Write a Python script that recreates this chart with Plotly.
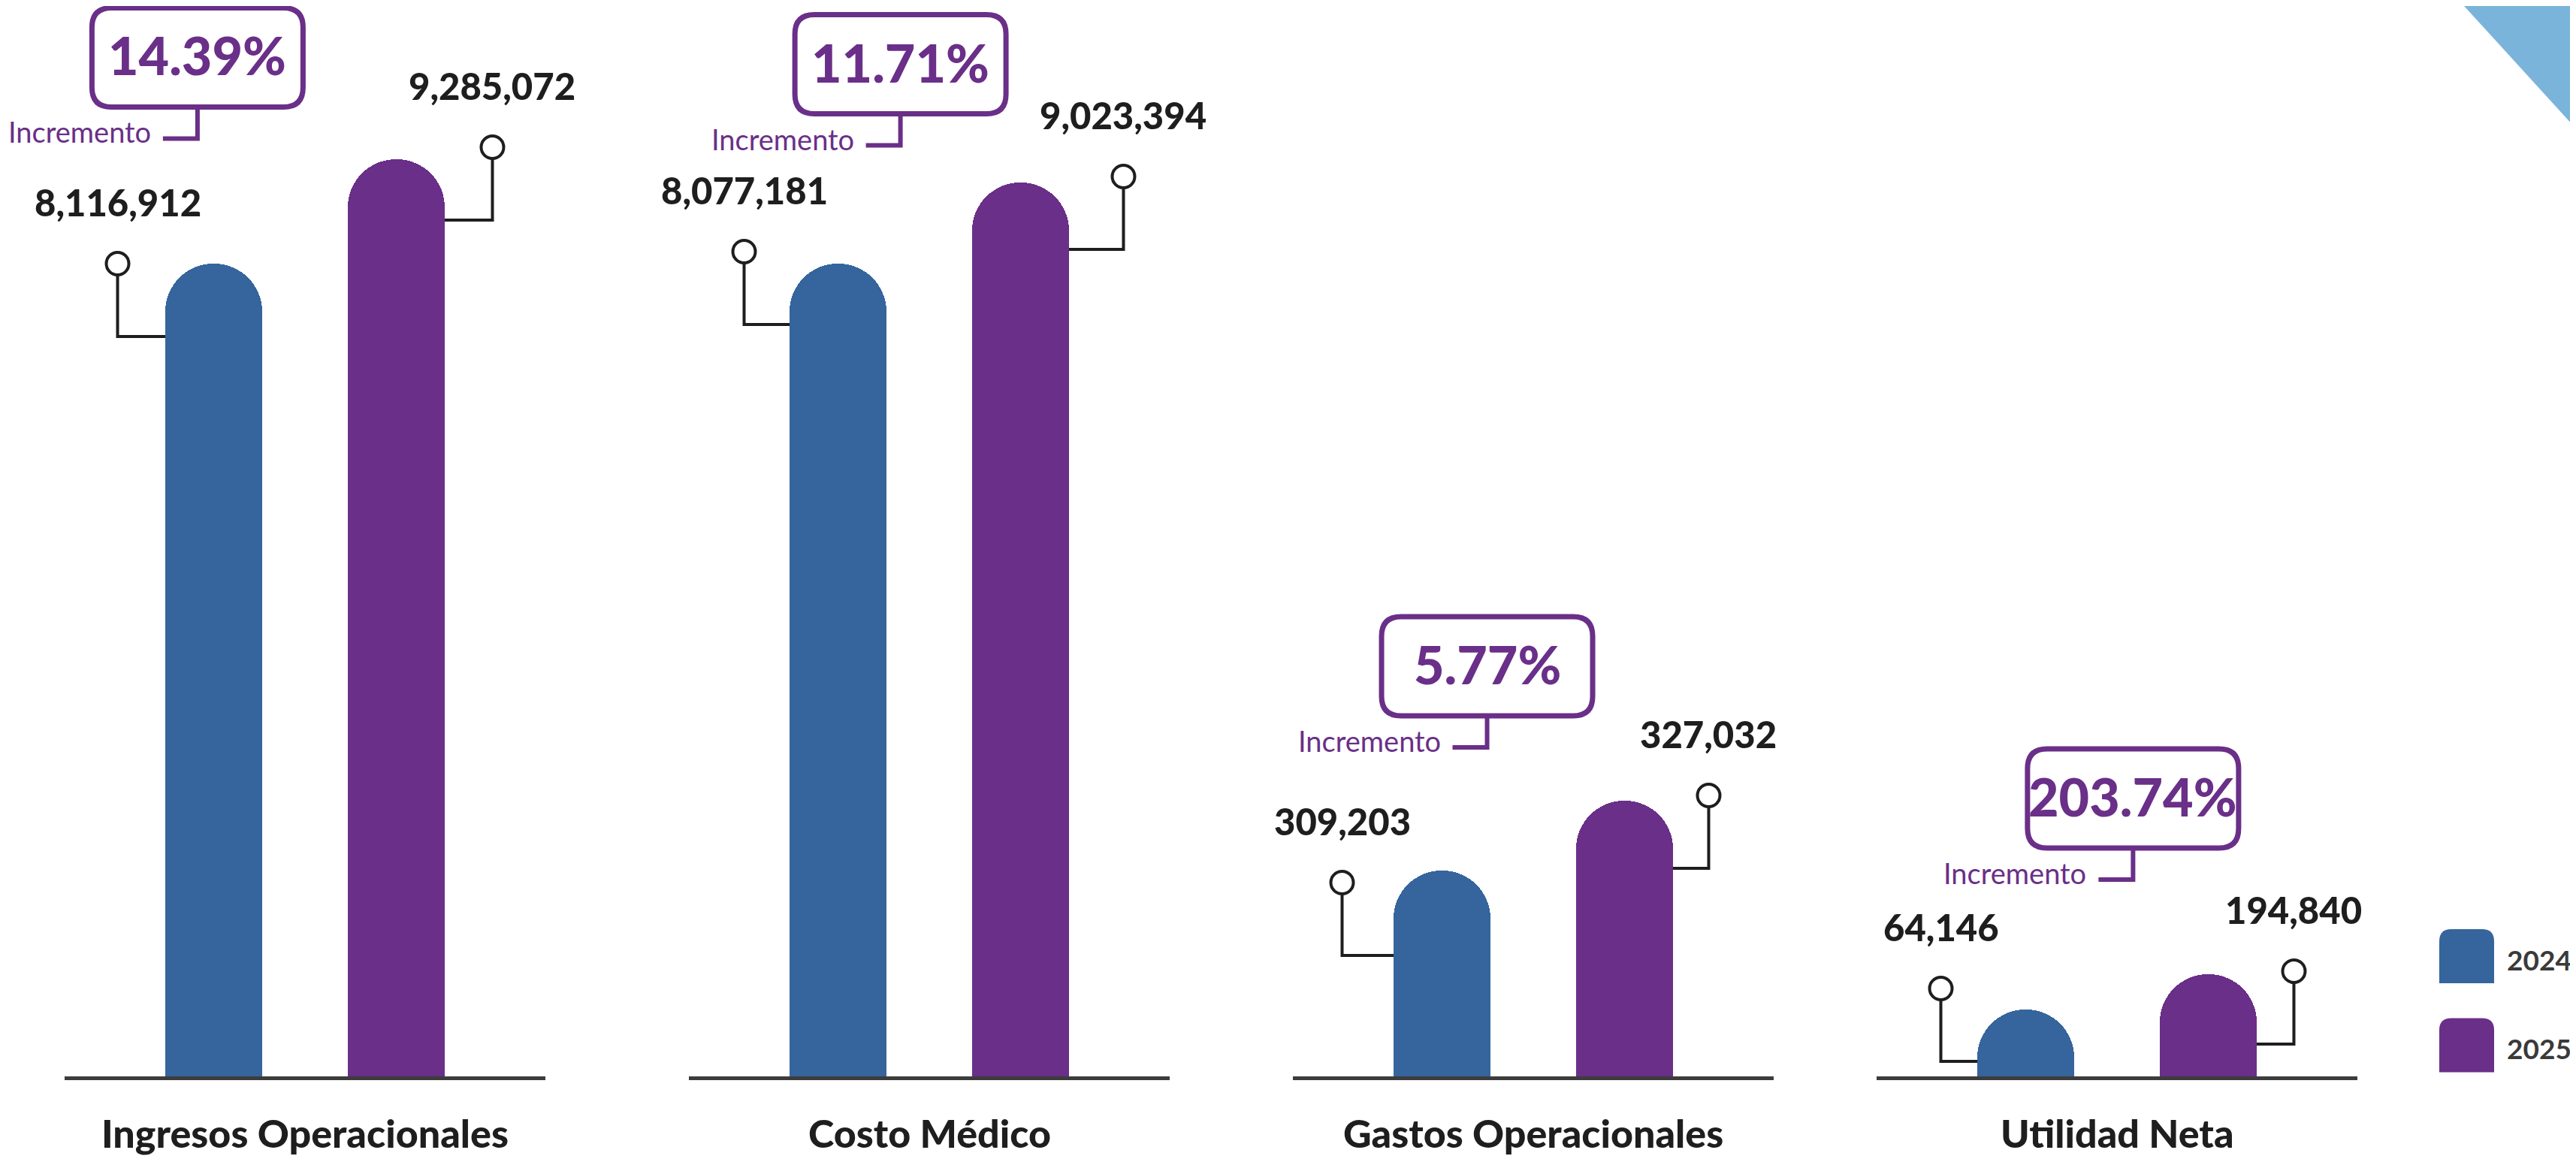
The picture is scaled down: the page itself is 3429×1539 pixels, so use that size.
import math
import plotly.graph_objects as go

# ---------------- data ----------------
categories = ["Ingresos Operacionales", "Costo Médico", "Gastos Operacionales", "Utilidad Neta"]
years = ["2024", "2025"]
values_2024 = [8116912, 8077181, 309203, 64146]
values_2025 = [9285072, 9023394, 327032, 194840]
increments = ["14.39%", "11.71%", "5.77%", "203.74%"]

# ---------------- style / layout ----------------
W, H = 3429, 1539
BLUE = "#35659c"
PURPLE = "#6a2f88"
INK = "#1e1e1e"
LINE = "#3c3c3c"
FONT = "Lato"

BASE_PX = 1425                     # baseline, px from top
panel_px = [(78, 718), (909, 1549), (1713, 2353), (2490, 3130)]
# (axis type, range) per panel – the infographic does not draw bars to one scale
y_axes = [("linear", (-976216, 10999484)), ("linear", (-1402221, 11082204)),
          ("linear", (256677, 529850)), ("log", (3.893, 18.53))]
XR = [-0.817, 1.817]
BAR_W = 0.531
HALF_BAR_PX = 64.5
CIRCLE_R = 15
# (circle dx from bar centre, circle dy above bar top) in px
leader = [[(-128, 0), (128, 16)], [(-125, 16), (137, 8)],
          [(-133, -16), (112, 7)], [(-113, 28), (114, 4)]]
# increment box: (x in panel data units, centre px from top)
box_pos = [(-0.089, 68.5), (0.342, 77.5), (0.247, 879), (0.588, 1055)]
BOX_W2, BOX_H2, BOX_R = 140.5, 66, 26


def circle_path(cx, cy, r):
    k = 0.5523 * r
    return (f"M {cx+r},{cy} C {cx+r},{cy+k} {cx+k},{cy+r} {cx},{cy+r} "
            f"C {cx-k},{cy+r} {cx-r},{cy+k} {cx-r},{cy} "
            f"C {cx-r},{cy-k} {cx-k},{cy-r} {cx},{cy-r} "
            f"C {cx+k},{cy-r} {cx+r},{cy-k} {cx+r},{cy} Z")


fig = go.Figure()
shapes, annotations = [], []
y_dom = [1 - BASE_PX / H, 1.0]

for i, cat in enumerate(categories):
    n = i + 1
    xa = "x" if n == 1 else f"x{n}"
    ya = "y" if n == 1 else f"y{n}"
    ytype, (lo, hi) = y_axes[i]
    vals = [values_2024[i], values_2025[i]]
    colors = [BLUE, PURPLE]

    def ann_y(v):
        # annotations on a log axis take log10 positions
        return math.log10(v) if ytype == "log" else v

    # rectangular foot below zero so the bars sit on the baseline
    if ytype == "linear" and lo < 0:
        fig.add_trace(go.Bar(
            x=[0, 1], y=[-lo, -lo], base=[lo, lo], width=BAR_W,
            marker=dict(color=colors, line=dict(width=0)),
            xaxis=xa, yaxis=ya, showlegend=False, hoverinfo="skip"))
    fig.add_trace(go.Bar(
        x=[0, 1], y=vals, width=BAR_W,
        marker=dict(color=colors, cornerradius="50%", line=dict(width=0)),
        xaxis=xa, yaxis=ya, showlegend=False, hoverinfo="skip"))

    x0p, x1p = panel_px[i]
    fig.update_layout(**{
        ("xaxis" if n == 1 else f"xaxis{n}"): dict(
            domain=[x0p / W, x1p / W], range=XR, anchor=ya, showline=True,
            linecolor=LINE, linewidth=5, showticklabels=False, showgrid=False,
            zeroline=False, ticks="", fixedrange=True),
        ("yaxis" if n == 1 else f"yaxis{n}"): dict(
            type=ytype, domain=y_dom, range=[lo, hi], anchor=xa, visible=False,
            showgrid=False, zeroline=False, fixedrange=True),
    })

    # leaders, circles and value labels
    for j, v in enumerate(vals):
        dx, dy = leader[i][j]
        side = -HALF_BAR_PX if j == 0 else HALF_BAR_PX
        shapes.append(dict(type="path", xref=xa, yref=ya, xsizemode="pixel", ysizemode="pixel",
                           xanchor=j, yanchor=v,
                           path=f"M {side},{dy-97} H {dx} V {dy-CIRCLE_R}",
                           line=dict(color=INK, width=4)))
        shapes.append(dict(type="path", xref=xa, yref=ya, xsizemode="pixel", ysizemode="pixel",
                           xanchor=j, yanchor=v, path=circle_path(dx, dy, CIRCLE_R),
                           line=dict(color=INK, width=4), fillcolor="white"))
        annotations.append(dict(xref=xa, yref=ya, x=j, y=ann_y(v), xshift=dx, yshift=dy + 82,
                                text=f"{v:,}", showarrow=False, xanchor="center", yanchor="middle",
                                font=dict(family=FONT, size=49, color=INK, weight=900)))

    # increment box
    bx, by = box_pos[i]
    byp = 1 - by / H
    w2, h2, r = BOX_W2, BOX_H2, BOX_R
    box_path = (f"M {-w2+r},{h2} L {w2-r},{h2} Q {w2},{h2} {w2},{h2-r} "
                f"L {w2},{-h2+r} Q {w2},{-h2} {w2-r},{-h2} L {-w2+r},{-h2} "
                f"Q {-w2},{-h2} {-w2},{-h2+r} L {-w2},{h2-r} Q {-w2},{h2} {-w2+r},{h2} Z")
    shapes.append(dict(type="path", xref=xa, yref="paper", xsizemode="pixel", ysizemode="pixel",
                       xanchor=bx, yanchor=byp, path=box_path,
                       line=dict(color=PURPLE, width=7), fillcolor="white"))
    shapes.append(dict(type="path", xref=xa, yref="paper", xsizemode="pixel", ysizemode="pixel",
                       xanchor=bx, yanchor=byp, path=f"M 0,{-h2} V {-h2-42} H -46",
                       line=dict(color=PURPLE, width=6)))
    annotations.append(dict(xref=xa, yref="paper", x=bx, y=byp, yshift=3, text=increments[i],
                            showarrow=False, xanchor="center", yanchor="middle",
                            font=dict(family=FONT, size=70, color=PURPLE, weight=900)))
    annotations.append(dict(xref=xa, yref="paper", x=bx, y=byp, xshift=-60, yshift=-h2 - 33,
                            text="Incremento", showarrow=False, xanchor="right", yanchor="middle",
                            font=dict(family=FONT, size=38, color=PURPLE, weight=400)))

    # category label
    annotations.append(dict(xref=xa, yref="paper", x=0.5, y=1 - 1500 / H, text=cat,
                            showarrow=False, xanchor="center", yanchor="middle",
                            font=dict(family=FONT, size=52, color=INK, weight=900)))

# legend (custom swatches)
for k, (yr, col, yc) in enumerate(zip(years, [BLUE, PURPLE], [1265, 1383.5])):
    w2, h2, r = 36.5, 36, 16
    sw = (f"M {-w2},{-h2} L {-w2},{h2-r} Q {-w2},{h2} {-w2+r},{h2} L {w2-r},{h2} "
          f"Q {w2},{h2} {w2},{h2-r} L {w2},{-h2} Z")
    shapes.append(dict(type="path", xref="paper", yref="paper", xsizemode="pixel", ysizemode="pixel",
                       xanchor=3275.5 / W, yanchor=1 - yc / H, path=sw,
                       line=dict(width=0), fillcolor=col))
    annotations.append(dict(xref="paper", yref="paper", x=3327 / W, y=1 - (yc + 4) / H, text=yr,
                            showarrow=False, xanchor="left", yanchor="middle",
                            font=dict(family=FONT, size=37, color="#3a3a3a", weight=700)))

# decorative corner band
shapes.append(dict(type="path", xref="paper", yref="paper",
                   path=f"M {3272/W},1 L 1,1 L 1,{1-172/H} Z",
                   line=dict(width=0), fillcolor="#7ab4da", layer="below"))

fig.update_layout(width=W, height=H, margin=dict(l=0, r=0, t=0, b=0),
                  paper_bgcolor="white", plot_bgcolor="white",
                  shapes=shapes, annotations=annotations, showlegend=False,
                  barmode="overlay", bargap=0)

fig.write_html("out.html")
